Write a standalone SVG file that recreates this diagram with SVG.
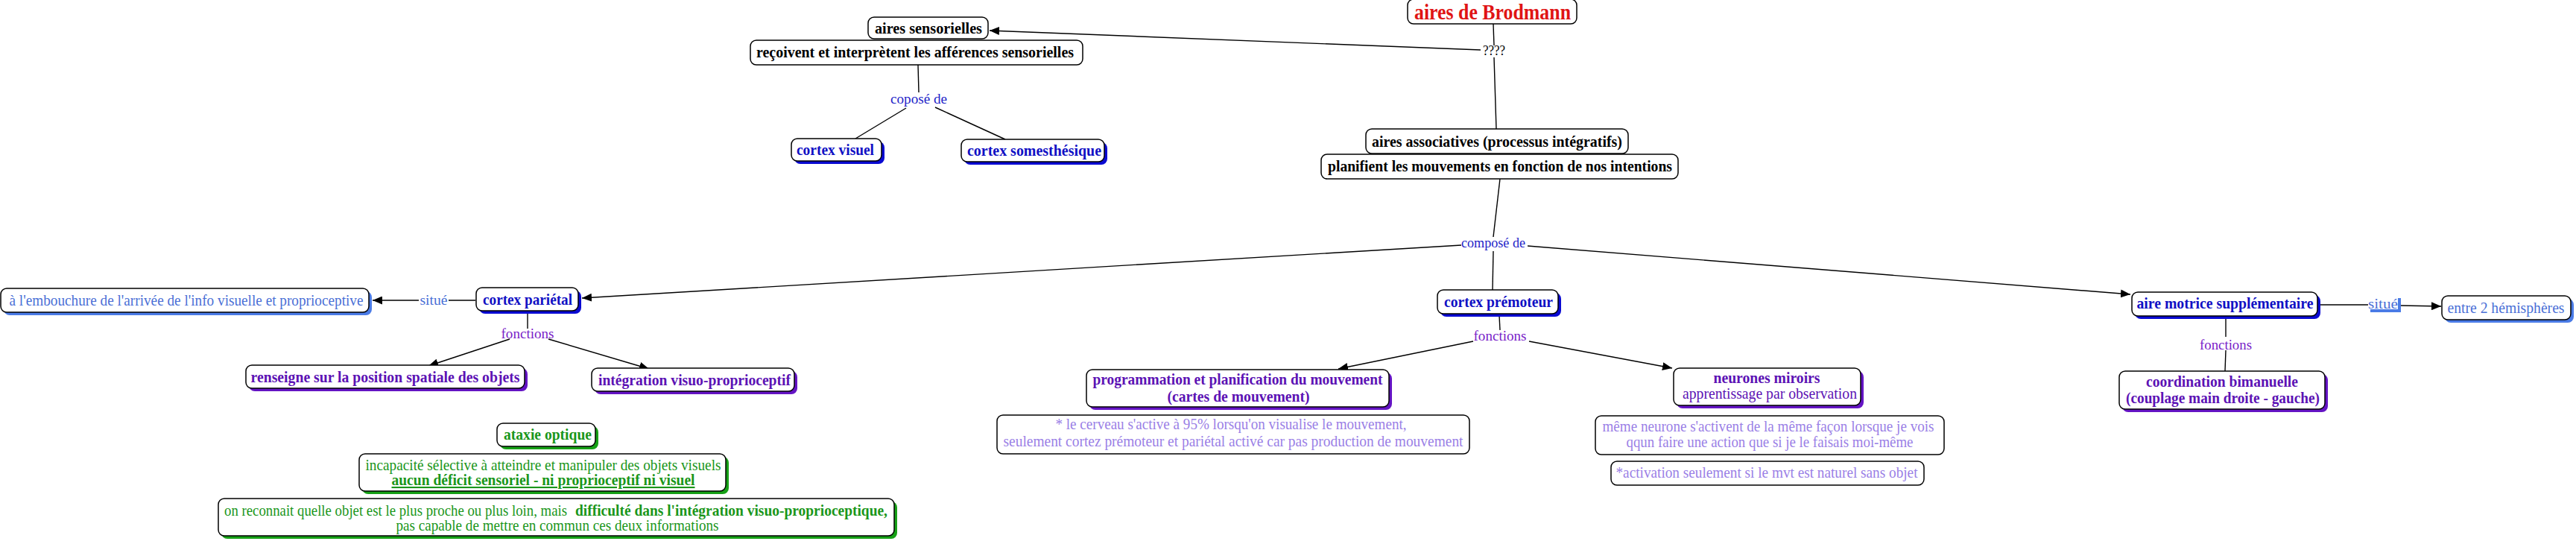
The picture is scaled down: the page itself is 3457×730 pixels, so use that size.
<svg xmlns="http://www.w3.org/2000/svg" width="3457" height="730" viewBox="0 0 3457 730">
<defs>
<marker id="arr" markerUnits="userSpaceOnUse" markerWidth="13" markerHeight="11" refX="13" refY="5.5" orient="auto"><path d="M0,0 L13,5.5 L0,11 z" fill="#000"/></marker>
<style>
text{font-family:"Liberation Serif",serif;font-size:21px;text-anchor:middle}
.b{font-weight:bold}
.box{fill:#fff;stroke:#000;stroke-width:1.5}
.sb{fill:#0a0ad2}
.slb{fill:#4a7be6}
.sp{fill:#6414c4}
.sg{fill:#17a017}
.tk{fill:#000}
.tr{fill:#e01414;font-size:30px}
.tb{fill:#1010c4}
.tp{fill:#5c12b4}
.tlp{fill:#9a80e6}
.tg{fill:#1a961a}
.tlb{fill:#4a6fd6}
.lbl{font-size:19px}
.lb{fill:#2424c8}
.lpu{fill:#7a22c8}
.con line{stroke:#000;stroke-width:1.4}
</style>
</defs>
<rect width="3457" height="730" fill="#fff"/>

<g id="connectors" class="con">
<line x1="2004" y1="32" x2="2005" y2="61"/>
<line x1="1987" y1="67" x2="1328" y2="41" marker-end="url(#arr)"/>
<line x1="2005" y1="77" x2="2008" y2="173"/>
<line x1="1232" y1="87" x2="1233" y2="124"/>
<line x1="1216" y1="145" x2="1148" y2="186"/>
<line x1="1255" y1="144" x2="1349" y2="187"/>
<line x1="2013" y1="240" x2="2004" y2="318"/>
<line x1="1961" y1="329" x2="781" y2="400" marker-end="url(#arr)"/>
<line x1="2004" y1="337" x2="2003" y2="389"/>
<line x1="2050" y1="330" x2="2859" y2="395" marker-end="url(#arr)"/>
<line x1="638" y1="403" x2="602" y2="403"/>
<line x1="562" y1="403" x2="500" y2="403" marker-end="url(#arr)"/>
<line x1="708" y1="419" x2="708" y2="441"/>
<line x1="684" y1="455" x2="575" y2="491" marker-end="url(#arr)"/>
<line x1="736" y1="455" x2="871" y2="495" marker-end="url(#arr)"/>
<line x1="2012" y1="423" x2="2013" y2="443"/>
<line x1="1977" y1="458" x2="1796" y2="495" marker-end="url(#arr)"/>
<line x1="2052" y1="458" x2="2244" y2="494" marker-end="url(#arr)"/>
<line x1="3113" y1="409" x2="3179" y2="409"/>
<line x1="3221" y1="410" x2="3276" y2="411" marker-end="url(#arr)"/>
<line x1="2987" y1="427" x2="2987" y2="452"/>
<line x1="2987" y1="470" x2="2986" y2="498"/>
</g>

<g id="link-labels">
<text class="lbl tk" x="2005" y="74" textLength="30" lengthAdjust="spacingAndGlyphs">????</text>
<text class="lbl lb" x="1233" y="139" textLength="76" lengthAdjust="spacingAndGlyphs">coposé de</text>
<text class="lbl lb" x="2004" y="332" textLength="86" lengthAdjust="spacingAndGlyphs">composé de</text>
<text class="lbl tlb" x="582" y="409" textLength="37" lengthAdjust="spacingAndGlyphs">situé</text>
<text class="lbl lpu" x="708" y="454" textLength="71" lengthAdjust="spacingAndGlyphs">fonctions</text>
<text class="lbl lpu" x="2013" y="457" textLength="71" lengthAdjust="spacingAndGlyphs">fonctions</text>
<g id="lbl-situe-right">
<rect x="3181" y="400" width="41" height="19" class="slb"/>
<rect x="3178" y="396" width="40" height="19" fill="#fff"/>
<text class="lbl tlb" x="3198" y="414" textLength="40" lengthAdjust="spacingAndGlyphs">situé</text>
</g>
<text class="lbl lpu" x="2987" y="469" textLength="70" lengthAdjust="spacingAndGlyphs">fonctions</text>
</g>

<g id="n-brodmann">
<rect class="box" x="1889" y="-1" width="227" height="33" rx="8"/>
<text class="b tr" x="2003" y="26" textLength="210" lengthAdjust="spacingAndGlyphs">aires de Brodmann</text>
</g>
<g id="n-sensorielles">
<rect class="box" x="1165" y="23" width="161" height="29" rx="8"/>
<text class="b tk" x="1246" y="45" textLength="144" lengthAdjust="spacingAndGlyphs">aires sensorielles</text>
</g>
<g id="n-recoivent">
<rect class="box" x="1007" y="54" width="446" height="33" rx="8"/>
<text class="b tk" x="1228" y="77" textLength="426" lengthAdjust="spacingAndGlyphs">reçoivent et interprètent les afférences sensorielles</text>
</g>
<g id="n-associatives">
<rect class="box" x="1833" y="173" width="352" height="33" rx="8"/>
<text class="b tk" x="2009" y="197" textLength="336" lengthAdjust="spacingAndGlyphs">aires associatives (processus intégratifs)</text>
</g>
<g id="n-planifient">
<rect class="box" x="1773" y="207" width="479" height="33" rx="8"/>
<text class="b tk" x="2013" y="230" textLength="462" lengthAdjust="spacingAndGlyphs">planifient les mouvements en fonction de nos intentions</text>
</g>
<g id="n-visuel">
<rect class="sb" x="1066" y="190" width="121" height="30" rx="8"/>
<rect class="box" x="1062" y="186" width="121" height="30" rx="8"/>
<text class="b tb" x="1121" y="208" textLength="104" lengthAdjust="spacingAndGlyphs">cortex visuel</text>
</g>
<g id="n-somesthesique">
<rect class="sb" x="1294" y="191" width="192" height="30" rx="8"/>
<rect class="box" x="1290" y="187" width="192" height="30" rx="8"/>
<text class="b tb" x="1388" y="209" textLength="180" lengthAdjust="spacingAndGlyphs">cortex somesthésique</text>
</g>
<g id="n-parietal">
<rect class="sb" x="643" y="390" width="137" height="31" rx="8"/>
<rect class="box" x="639" y="386" width="137" height="31" rx="8"/>
<text class="b tb" x="708" y="409" textLength="120" lengthAdjust="spacingAndGlyphs">cortex pariétal</text>
</g>
<g id="n-embouchure">
<rect class="slb" x="5" y="391" width="494" height="32" rx="8"/>
<rect class="box" x="1" y="387" width="494" height="32" rx="8"/>
<text class="tlb" x="250" y="410" textLength="475" lengthAdjust="spacingAndGlyphs">à l'embouchure de l'arrivée de l'info visuelle et proprioceptive</text>
</g>
<g id="n-renseigne">
<rect class="sp" x="334" y="494" width="374" height="31" rx="8"/>
<rect class="box" x="330" y="490" width="374" height="31" rx="8"/>
<text class="b tp" x="517" y="513" textLength="361" lengthAdjust="spacingAndGlyphs">renseigne sur la position spatiale des objets</text>
</g>
<g id="n-integration">
<rect class="sp" x="798" y="498" width="272" height="31" rx="8"/>
<rect class="box" x="794" y="494" width="272" height="31" rx="8"/>
<text class="b tp" x="932" y="517" textLength="258" lengthAdjust="spacingAndGlyphs">intégration visuo-proprioceptif</text>
</g>
<g id="n-ataxie">
<rect class="sg" x="671" y="572" width="132" height="31" rx="8"/>
<rect class="box" x="667" y="568" width="132" height="31" rx="8"/>
<text class="b tg" x="735" y="590" textLength="118" lengthAdjust="spacingAndGlyphs">ataxie optique</text>
</g>
<g id="n-incapacite">
<rect class="sg" x="486" y="613" width="492" height="50" rx="8"/>
<rect class="box" x="482" y="609" width="492" height="50" rx="8"/>
<text class="tg" x="729" y="631" textLength="477" lengthAdjust="spacingAndGlyphs">incapacité sélective à atteindre et manipuler des objets visuels</text>
<text class="b tg" x="729" y="651" textLength="407" lengthAdjust="spacingAndGlyphs" text-decoration="underline">aucun déficit sensoriel - ni proprioceptif ni visuel</text>
</g>
<g id="n-reconnait">
<rect class="sg" x="297" y="673" width="907" height="50" rx="8"/>
<rect class="box" x="293" y="669" width="907" height="50" rx="8"/>
<text class="tg" x="301" y="692" style="text-anchor:start" textLength="460" lengthAdjust="spacingAndGlyphs">on reconnait quelle objet est le plus proche ou plus loin, mais</text>
<text class="b tg" x="772" y="692" style="text-anchor:start" textLength="419" lengthAdjust="spacingAndGlyphs">difficulté dans l'intégration visuo-proprioceptique,</text>
<text class="tg" x="748" y="712" textLength="433" lengthAdjust="spacingAndGlyphs">pas capable de mettre en commun ces deux informations</text>
</g>
<g id="n-premoteur">
<rect class="sb" x="1933" y="393" width="162" height="32" rx="8"/>
<rect class="box" x="1929" y="389" width="162" height="32" rx="8"/>
<text class="b tb" x="2011" y="412" textLength="146" lengthAdjust="spacingAndGlyphs">cortex prémoteur</text>
</g>
<g id="n-programmation">
<rect class="sp" x="1462" y="500" width="406" height="50" rx="8"/>
<rect class="box" x="1458" y="496" width="406" height="50" rx="8"/>
<text class="b tp" x="1661" y="516" textLength="389" lengthAdjust="spacingAndGlyphs">programmation et planification du mouvement</text>
<text class="b tp" x="1662" y="539" textLength="191" lengthAdjust="spacingAndGlyphs">(cartes de mouvement)</text>
</g>
<g id="n-cerveau">
<rect class="box" x="1338" y="557" width="634" height="52" rx="8"/>
<text class="tlp" x="1652" y="576" textLength="471" lengthAdjust="spacingAndGlyphs">* le cerveau s'active à 95% lorsqu'on visualise le mouvement,</text>
<text class="tlp" x="1655" y="599" textLength="617" lengthAdjust="spacingAndGlyphs">seulement cortez prémoteur et pariétal activé car pas production de mouvement</text>
</g>
<g id="n-miroirs">
<rect class="sp" x="2250" y="498" width="251" height="50" rx="8"/>
<rect class="box" x="2246" y="494" width="251" height="50" rx="8"/>
<text class="b tp" x="2371" y="514" textLength="143" lengthAdjust="spacingAndGlyphs">neurones miroirs</text>
<text class="tp" x="2375" y="535" textLength="234" lengthAdjust="spacingAndGlyphs">apprentissage par observation</text>
</g>
<g id="n-meme-neurone">
<rect class="box" x="2141" y="558" width="468" height="52" rx="8"/>
<text class="tlp" x="2373" y="579" textLength="445" lengthAdjust="spacingAndGlyphs">même neurone s'activent de la même façon lorsque je vois</text>
<text class="tlp" x="2375" y="600" textLength="385" lengthAdjust="spacingAndGlyphs">qqun faire une action que si je le faisais moi-même</text>
</g>
<g id="n-activation">
<rect class="box" x="2162" y="619" width="420" height="32" rx="8"/>
<text class="tlp" x="2371" y="641" textLength="405" lengthAdjust="spacingAndGlyphs">*activation seulement si le mvt est naturel sans objet</text>
</g>
<g id="n-aire-motrice">
<rect class="sb" x="2865" y="396" width="249" height="32" rx="8"/>
<rect class="box" x="2861" y="392" width="249" height="32" rx="8"/>
<text class="b tb" x="2986" y="414" textLength="237" lengthAdjust="spacingAndGlyphs">aire motrice supplémentaire</text>
</g>
<g id="n-hemispheres">
<rect class="slb" x="3281" y="401" width="173" height="32" rx="8"/>
<rect class="box" x="3277" y="397" width="173" height="32" rx="8"/>
<text class="tlb" x="3363" y="420" textLength="157" lengthAdjust="spacingAndGlyphs">entre 2 hémisphères</text>
</g>
<g id="n-coordination">
<rect class="sp" x="2848" y="502" width="276" height="51" rx="8"/>
<rect class="box" x="2844" y="498" width="276" height="51" rx="8"/>
<text class="b tp" x="2982" y="519" textLength="204" lengthAdjust="spacingAndGlyphs">coordination bimanuelle</text>
<text class="b tp" x="2983" y="541" textLength="260" lengthAdjust="spacingAndGlyphs">(couplage main droite - gauche)</text>
</g>
</svg>
